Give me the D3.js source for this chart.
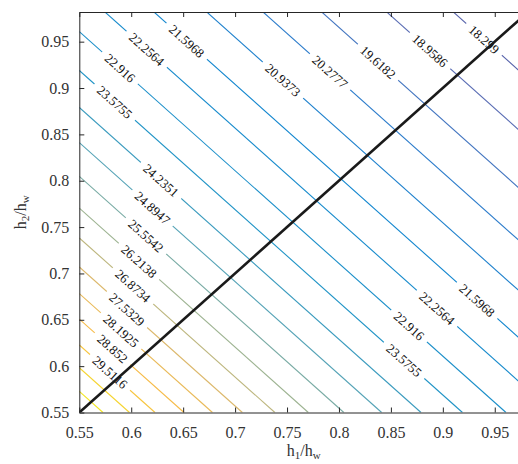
<!DOCTYPE html>
<html>
<head>
<meta charset="utf-8">
<script src="https://cdn.jsdelivr.net/npm/d3@7"></script>
<style>
  body { margin: 0; background: #fff; }
  svg { display: block; }
</style>
</head>
<body>
<div class="chart"></div>
<script>
// contour levels (value printed on each line)
const levels = [18.299, 18.9586, 19.6182, 20.2777, 20.9373, 21.5968, 22.2564, 22.916, 23.5755, 24.2351,
                24.8947, 25.5542, 26.2138, 26.8734, 27.5329, 28.1925, 28.852, 29.5116, 30.1712, 30.8307];
// h1/hw + h2/hw along each contour (lines are straight, slope -1)
const levelSums = [1.8921, 1.8280, 1.7654, 1.7089, 1.6547, 1.6039, 1.5567, 1.5108, 1.4689, 1.4290,
                   1.3911, 1.3547, 1.3205, 1.2883, 1.2570, 1.2282, 1.2008, 1.1729, 1.1483, 1.1228];
const colorRange = [17.6395, 30.8307];
const xTicks = [0.55, 0.6, 0.65, 0.7, 0.75, 0.8, 0.85, 0.9, 0.95];
const yTicks = [0.55, 0.6, 0.65, 0.7, 0.75, 0.8, 0.85, 0.9, 0.95];
const axisMin = 0.55, axisMax = 0.982;

// where each label sits on its line (h1/hw of the label centre)
const labelSpots = [
  [18.299, 0.9397], [18.9586, 0.8877], [19.6182, 0.8376], [20.2777, 0.7914], [20.9373, 0.7461],
  [21.5968, 0.6534], [22.2564, 0.6149], [22.916, 0.5892], [23.5755, 0.5841], [24.2351, 0.6287],
  [24.8947, 0.6205], [25.5542, 0.6142], [26.2138, 0.6075], [26.8734, 0.6017], [27.5329, 0.5959],
  [28.1925, 0.5902], [28.852, 0.5820], [29.5116, 0.5796],
  [21.5968, 0.9330], [22.2564, 0.8944], [22.916, 0.8675], [23.5755, 0.8627]
];

// colormap (parula-like, as the thin lines appear)
const cmapStops = [0, 0.1, 0.2, 0.3, 0.45, 0.55, 0.65, 0.75, 0.85, 0.92, 1];
const cmapColors = ['#545aa2', '#5a6db4', '#2c7ccb', '#1286cf', '#2094c6', '#55a3b6', '#9db391',
                    '#dcb86b', '#f6bb48', '#f7c93a', '#f3e61f'];
const colorOf = v => d3.scaleLinear().domain(cmapStops).range(cmapColors)
  ((v - colorRange[0]) / (colorRange[1] - colorRange[0]));

const width = 518, height = 464;
const margin = {top: 12, left: 79.3, bottom: 412.5, right: 528};
const axisColor = '#262626';
const serif = '"Liberation Serif", "Times New Roman", Tinos, "DejaVu Serif", serif';

const x = d3.scaleLinear().domain([axisMin, axisMax]).range([margin.left, margin.right]);
const y = d3.scaleLinear().domain([axisMin, axisMax]).range([margin.bottom, margin.top]);

const svg = d3.select('.chart').append('svg')
  .attr('width', width).attr('height', height)
  .attr('font-family', serif);

svg.append('clipPath').attr('id', 'plotClip')
  .append('rect')
  .attr('x', margin.left).attr('y', margin.top)
  .attr('width', margin.right - margin.left).attr('height', margin.bottom - margin.top);

const plot = svg.append('g').attr('clip-path', 'url(#plotClip)');

// contour lines: h1 + h2 = s, drawn from the left edge to the bottom edge
const contourData = levels.map((v, i) => ({value: v, sum: levelSums[i]}));
plot.append('g').attr('class', 'contours')
  .selectAll('line').data(contourData).join('line')
  .attr('x1', d => x(axisMin)).attr('y1', d => y(d.sum - axisMin))
  .attr('x2', d => x(d.sum - axisMin)).attr('y2', d => y(axisMin))
  .attr('stroke', d => colorOf(d.value))
  .attr('stroke-width', 1.1)
  .attr('fill', 'none');

// labels rotated along the lines
const angle = Math.atan2(y(0.6) - y(0.7), x(0.7) - x(0.6)) * 180 / Math.PI;
const sumOf = v => levelSums[levels.indexOf(v)];
const labelData = labelSpots.map(([v, h1]) => ({value: v, h1: h1, h2: sumOf(v) - h1}));

const labels = plot.append('g').attr('class', 'contour-labels')
  .selectAll('g').data(labelData).join('g')
  .attr('transform', d => `translate(${x(d.h1)},${y(d.h2)}) rotate(${angle})`);

labels.append('rect').attr('fill', '#fff');
const labelText = labels.append('text')
  .attr('text-anchor', 'middle')
  .attr('dy', '0.35em')
  .attr('font-family', serif)
  .attr('font-size', 13)
  .attr('fill', '#111')
  .text(d => String(d.value));
labelText.each(function() {
  const w = this.getComputedTextLength() + 12;
  d3.select(this.previousSibling)
    .attr('x', -w / 2).attr('y', -5).attr('width', w).attr('height', 10);
});

// black diagonal h2 = h1
plot.append('line')
  .attr('x1', x(axisMin)).attr('y1', y(axisMin))
  .attr('x2', x(axisMax)).attr('y2', y(axisMax))
  .attr('stroke', '#1a1a1a').attr('stroke-width', 2.6);

// axes (MATLAB style box with inward ticks)
const tickSize = 5;
const xAxis = svg.append('g').attr('transform', `translate(0,${margin.bottom})`)
  .call(d3.axisBottom(x).tickValues(xTicks).tickFormat(d3.format('~g')).tickSizeInner(-tickSize).tickSizeOuter(0).tickPadding(14));
const xAxisTop = svg.append('g').attr('transform', `translate(0,${margin.top})`)
  .call(d3.axisTop(x).tickValues(xTicks).tickFormat('').tickSizeInner(-tickSize).tickSizeOuter(0));
const yAxis = svg.append('g').attr('transform', `translate(${margin.left},0)`)
  .call(d3.axisLeft(y).tickValues(yTicks).tickFormat(d3.format('~g')).tickSizeInner(-tickSize).tickSizeOuter(0).tickPadding(10));
const yAxisRight = svg.append('g').attr('transform', `translate(${margin.right},0)`)
  .call(d3.axisRight(y).tickValues(yTicks).tickFormat('').tickSizeInner(-tickSize).tickSizeOuter(0));

[xAxis, xAxisTop, yAxis, yAxisRight].forEach(a => {
  a.attr('font-family', serif).attr('font-size', 16);
  a.select('.domain').attr('stroke', axisColor).attr('stroke-width', 1);
  a.selectAll('.tick line').attr('stroke', axisColor).attr('stroke-width', 1);
  a.selectAll('text').attr('fill', '#333').attr('font-family', serif).attr('font-size', 16);
});

// axis titles
const xTitle = svg.append('text')
  .attr('x', (margin.left + margin.right) / 2).attr('y', 456)
  .attr('text-anchor', 'middle').attr('fill', '#333')
  .attr('font-family', serif).attr('font-size', 16);
xTitle.append('tspan').text('h');
xTitle.append('tspan').attr('baseline-shift', '-25%').attr('font-size', 11).text('1');
xTitle.append('tspan').text('/h');
xTitle.append('tspan').attr('baseline-shift', '-25%').attr('font-size', 11).text('w');

const yTitle = svg.append('text')
  .attr('transform', `translate(26,${(margin.top + margin.bottom) / 2}) rotate(-90)`)
  .attr('text-anchor', 'middle').attr('fill', '#333')
  .attr('font-family', serif).attr('font-size', 16);
yTitle.append('tspan').text('h');
yTitle.append('tspan').attr('baseline-shift', '-25%').attr('font-size', 11).text('2');
yTitle.append('tspan').text('/h');
yTitle.append('tspan').attr('baseline-shift', '-25%').attr('font-size', 11).text('w');
</script>
</body>
</html>
